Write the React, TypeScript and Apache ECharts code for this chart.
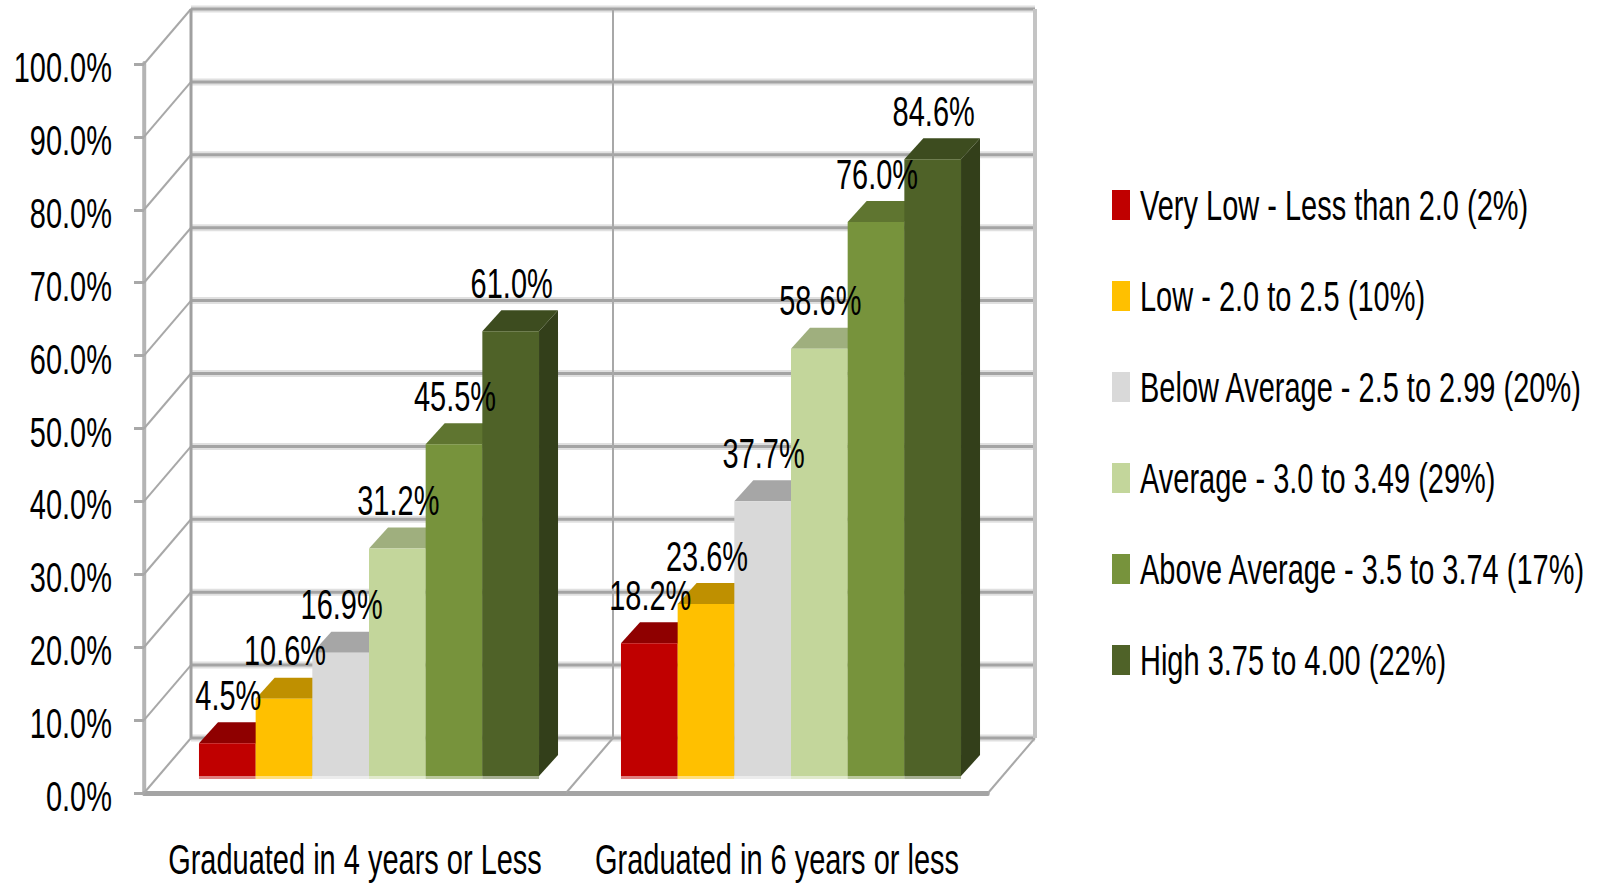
import React, { useEffect, useRef } from "react";
import * as echarts from "echarts";

const categories = ["Graduated in 4 years or Less", "Graduated in 6 years or less"];
const seriesNames = [
  "Very Low - Less than 2.0 (2%)",
  "Low - 2.0 to 2.5 (10%)",
  "Below Average - 2.5 to 2.99 (20%)",
  "Average - 3.0 to 3.49 (29%)",
  "Above Average - 3.5 to 3.74 (17%)",
  "High 3.75 to 4.00 (22%)",
];
const veryLow = [4.5, 18.2];
const low = [10.6, 23.6];
const belowAverage = [16.9, 37.7];
const average = [31.2, 58.6];
const aboveAverage = [45.5, 76.0];
const high = [61.0, 84.6];
const allValues = [veryLow, low, belowAverage, average, aboveAverage, high];
const gridTicks = [0, 10, 20, 30, 40, 50, 60, 70, 80, 90, 100];

const frontColors = ["#C00000", "#FFC000", "#D9D9D9", "#C3D69B", "#77933C", "#4F6228"];
const topColors = ["#8F0000", "#BF9000", "#A6A6A6", "#9FAF7E", "#5F7530", "#3D4C1F"];
const sideColors = ["#700000", "#A07800", "#A0A0A0", "#8F9E70", "#4F6228", "#333F1A"];

// The reference's type is tall and condensed: the chart is drawn wide and squeezed horizontally.
const SX = 0.69;
const px = (x: number) => x / SX;

const FONT = '"Liberation Sans", sans-serif';
const FONT_SIZE = 42;
const WALL_DX = px(47);
const WALL_DY = -55;
const BAR_DX = px(14);
const BAR_DY = -17;
const DEPTH_X = px(19);
const DEPTH_Y = -21;
const BAR_RATIO = 0.1343;

const line = (x1: number, y1: number, x2: number, y2: number, stroke: string, lineWidth: number) => ({
  type: "line",
  shape: { x1, y1, x2, y2 },
  style: { stroke, lineWidth },
  silent: true,
});

function renderFrame(params: any, api: any) {
  const cs = params.coordSys;
  const v = api.value(1);
  const y = api.coord([0, v])[1];
  const left = cs.x;
  const right = cs.x + cs.width;
  const mid = cs.x + cs.width / 2;
  const children: any[] = [
    line(left + WALL_DX, y + WALL_DY, right + WALL_DX, y + WALL_DY, "#E0E0E0", 7),
    line(left + WALL_DX, y + WALL_DY, right + WALL_DX, y + WALL_DY, "#A4A4A4", 3),
    line(left, y, left + WALL_DX, y + WALL_DY, "#A8A8A8", 2.5),
  ];
  if (v === 0) {
    children.push(
      line(mid, y, mid + WALL_DX, y + WALL_DY, "#A8A8A8", 2.5),
      line(right, y, right + WALL_DX, y + WALL_DY, "#A8A8A8", 2.5),
    );
  }
  if (v === 100) {
    const bottom = api.coord([0, 0])[1];
    children.push(
      line(left + WALL_DX, bottom + WALL_DY, left + WALL_DX, y + WALL_DY, "#A0A0A0", px(3)),
      line(mid + WALL_DX, bottom + WALL_DY, mid + WALL_DX, y + WALL_DY, "#A8A8A8", px(2)),
      line(right + WALL_DX, bottom + WALL_DY, right + WALL_DX, y + WALL_DY, "#C4C4C4", px(4)),
    );
  }
  return { type: "group", children };
}

const renderBar = (idx: number) => (params: any, api: any) => {
  const cat = api.value(0);
  const v = api.value(1);
  const c = api.coord([cat, v]);
  const base = api.coord([cat, 0]);
  const w = api.size([1, 0])[0] * BAR_RATIO;
  const x0 = c[0] + BAR_DX + (idx - 3) * w;
  const x1 = x0 + w;
  const yTop = c[1] + BAR_DY;
  const yBase = base[1] + BAR_DY;
  return {
    type: "group",
    children: [
      {
        type: "polygon",
        shape: { points: [[x1, yTop], [x1 + DEPTH_X, yTop + DEPTH_Y], [x1 + DEPTH_X, yBase + DEPTH_Y], [x1, yBase]] },
        style: { fill: sideColors[idx] },
      },
      {
        type: "polygon",
        shape: { points: [[x0, yTop], [x0 + DEPTH_X, yTop + DEPTH_Y], [x1 + DEPTH_X, yTop + DEPTH_Y], [x1, yTop]] },
        style: { fill: topColors[idx] },
      },
      { type: "rect", shape: { x: x0, y: yTop, width: w, height: yBase - yTop }, style: { fill: frontColors[idx] } },
      { type: "rect", shape: { x: x0, y: yBase, width: w, height: 3 }, style: { fill: frontColors[idx], opacity: 0.5 } },
    ],
  };
};

function renderLabel(params: any, api: any) {
  const cat = api.value(0);
  const v = api.value(1);
  const idx = api.value(2);
  const c = api.coord([cat, v]);
  const w = api.size([1, 0])[0] * BAR_RATIO;
  return {
    type: "text",
    x: c[0] + BAR_DX + (idx - 2.5) * w + px(1),
    y: c[1] + BAR_DY - 48,
    style: {
      text: v.toFixed(1) + "%",
      textAlign: "center",
      textVerticalAlign: "middle",
      fill: "#000",
      font: `${FONT_SIZE}px ${FONT}`,
    },
  };
}

export default function App() {
  const ref = useRef<HTMLDivElement>(null);
  useEffect(() => {
    document.body.style.margin = "0";
    document.body.style.overflow = "hidden";
    const chart = echarts.init(ref.current!, undefined, { renderer: "svg" });
    chart.setOption({
      animation: false,
      backgroundColor: "#fff",
      grid: { left: px(144), top: 64, width: px(844), height: 729, outerBoundsMode: "none" },
      xAxis: {
        type: "category",
        data: categories,
        axisLine: { lineStyle: { color: "#A4A4A4", width: 5 } },
        axisTick: { length: 14, lineStyle: { color: "#A8A8A8", width: px(2) } },
        axisLabel: { color: "#000", fontFamily: FONT, fontSize: FONT_SIZE, margin: 45, interval: 0 },
        splitLine: { show: false },
      },
      yAxis: {
        type: "value",
        min: 0,
        max: 100,
        interval: 10,
        axisLine: { show: true, lineStyle: { color: "#B4B4B4", width: px(4) } },
        axisTick: { show: true, length: px(10), lineStyle: { color: "#A8A8A8", width: 3 } },
        axisLabel: {
          color: "#000",
          margin: px(32),
          formatter: (v: number) => `{t|${v.toFixed(1)}%}`,
          rich: {
            t: { color: "#000", fontFamily: FONT, fontSize: FONT_SIZE, padding: [7, 0, 0, 0] },
          },
        },
        splitLine: { show: false },
      },
      legend: {
        orient: "vertical",
        left: px(1112),
        top: 184,
        padding: 0,
        icon: "rect",
        itemWidth: px(18),
        itemHeight: 30,
        itemGap: 49,
        data: seriesNames,
        selectedMode: false,
        textStyle: {
          color: "#000",
          fontFamily: FONT,
          fontSize: FONT_SIZE,
          lineHeight: 30,
          padding: [6, 0, 0, px(10) - 5],
        },
      },
      series: [
        {
          type: "custom",
          name: "frame",
          coordinateSystem: "cartesian2d",
          renderItem: renderFrame,
          data: gridTicks.map((t) => [0, t]),
          encode: { x: 0, y: 1 },
          silent: true,
          z: 1,
        },
        ...allValues.map((vals, idx) => ({
          type: "custom",
          name: seriesNames[idx],
          coordinateSystem: "cartesian2d",
          renderItem: renderBar(idx),
          itemStyle: { color: frontColors[idx] },
          data: vals.map((v, i) => [i, v]),
          encode: { x: 0, y: 1 },
          silent: true,
          z: 2,
        })),
        {
          type: "custom",
          name: "labels",
          coordinateSystem: "cartesian2d",
          renderItem: renderLabel,
          data: allValues.flatMap((vals, idx) => vals.map((v, i) => [i, v, idx])),
          encode: { x: 0, y: 1 },
          silent: true,
          z: 10,
        },
      ],
    });
    return () => chart.dispose();
  }, []);
  return (
    <div style={{ position: "fixed", left: 0, top: 0, width: 1607, height: 883, overflow: "hidden", background: "#fff" }}>
      <div
        ref={ref}
        style={{ width: px(1607), height: 883, transform: `scaleX(${SX})`, transformOrigin: "0 0" }}
      />
    </div>
  );
}
